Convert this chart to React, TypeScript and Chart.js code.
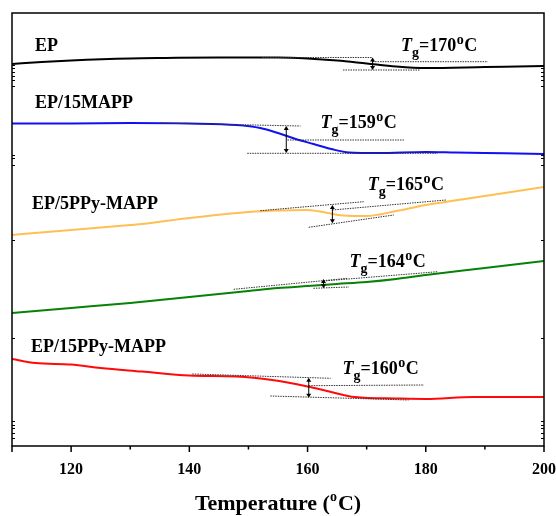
import { useEffect, useRef } from "react";
import { Chart, registerables } from "chart.js";

Chart.register(...registerables);

const SERIF = "'Liberation Serif', 'Times New Roman', serif";

// Temperatures (°C) and heat-flow readings (arbitrary units, endo down, offset per curve)
const epT = [110, 115, 120, 130, 136, 145, 155, 160, 165, 170, 175, 180, 190, 200];
const epV = [51, 49, 47.5, 45.5, 45, 44.5, 44.5, 45.5, 47.5, 50.5, 53.5, 55, 54, 53];

const mappT = [110, 120, 130, 140, 148, 152, 155, 158, 161, 164, 167, 172, 180, 185, 190, 200];
const mappV = [110.5, 110.5, 110, 110.5, 112, 115, 120, 126, 131, 136, 139.5, 140, 139, 139.5, 140, 141];

const ppy5T = [110, 120, 130, 132, 140, 150, 155, 160, 163, 166, 170, 175, 180, 190, 200];
const ppy5V = [222, 217, 212, 211, 205, 199, 197.5, 197, 199.5, 202.5, 203, 198, 192, 183, 174];

const ppy15gT = [110, 120, 130, 140, 150, 155, 160, 165, 170, 175, 180, 190, 200];
const ppy15gV = [300, 295, 290, 284, 278, 275, 273, 271, 269, 266, 262, 255, 248];

const ppy15T = [110, 114, 120, 125, 132, 140, 148, 154, 160, 164, 168, 175, 180, 188, 200];
const ppy15V = [346, 350, 351.5, 355, 358.5, 362.5, 363.5, 367, 373.5, 379, 384, 385.5, 386, 384, 384];

const seriesNames = ["EP", "EP/15MAPP", "EP/5PPy-MAPP", "EP/15PPy-MAPP"];
const seriesColors = ["#000000", "#1010f0", "#ffbf52", "#068206", "#ff0a0a"];
const nameT = [113.9, 113.9, 113.4, 113.2];
const nameV = [33, 90, 191, 334];

// Tg values and label anchors
const tgValues = ["170", "159", "165", "164", "160"];
const tgLabelT = [175.8, 162.2, 170.2, 167.1, 165.9];
const tgLabelV = [38, 115, 177, 254, 361];

// Tangent construction lines: [t1, v1, t2, v2]
const tangents = [
  [152.4, 44.5, 171, 44.5], [171, 48.7, 190.5, 48.7], [166, 57, 179, 57],
  [135, 110, 158.8, 113], [156.6, 127, 176.3, 127], [149.8, 140.3, 182, 140.3],
  [152, 197.7, 169.5, 188.7], [164.2, 197, 183.4, 187], [160.2, 214.3, 174.6, 202],
  [147.5, 276.3, 166.8, 265.3], [162.7, 268, 182, 258.7], [161, 275.3, 167, 274],
  [140.5, 361, 163.9, 365.3], [160.2, 372.7, 179.7, 372], [153.7, 383, 177.1, 387],
];

// Vertical step arrows: [t, vTop, vBottom]
const arrows = [
  [171, 44.5, 57],
  [156.4, 113, 140],
  [164.2, 192, 210.3],
  [162.7, 266, 275.3],
  [160.2, 364.7, 384.7],
];

const xMajorTicks = [110, 120, 140, 160, 180, 200];
const xMinorTicks = [130, 150, 170, 190];
const yMinorTicks = [52, 55, 59, 63, 67, 73, 142, 145, 152, 227, 325, 408, 412, 415, 420, 425];

const toPoints = (t: number[], v: number[]) => t.map((x, i) => ({ x, y: v[i] }));

const overlay = {
  id: "overlay",
  afterDraw(chart: any) {
    const { ctx, chartArea, scales } = chart;
    const xs = scales.x;
    const ys = scales.y;
    const { left, right, top, bottom } = chartArea;
    ctx.save();
    // frame
    ctx.strokeStyle = "#000";
    ctx.lineWidth = 1.5;
    ctx.strokeRect(left, top, right - left, bottom - top);
    // x ticks
    ctx.lineWidth = 1.5;
    ctx.beginPath();
    xMajorTicks.forEach((t) => {
      const px = xs.getPixelForValue(t);
      ctx.moveTo(px, bottom);
      ctx.lineTo(px, bottom + 6);
    });
    xMinorTicks.forEach((t) => {
      const px = xs.getPixelForValue(t);
      ctx.moveTo(px, bottom);
      ctx.lineTo(px, bottom + 3.5);
    });
    ctx.stroke();
    // y minor ticks inward
    ctx.lineWidth = 1;
    ctx.beginPath();
    yMinorTicks.forEach((v) => {
      const py = Math.round(ys.getPixelForValue(v)) + 0.5;
      ctx.moveTo(left, py);
      ctx.lineTo(left + 3, py);
      ctx.moveTo(right, py);
      ctx.lineTo(right - 3, py);
    });
    ctx.stroke();

    // arrows
    ctx.strokeStyle = "#000";
    ctx.fillStyle = "#000";
    ctx.lineWidth = 1;
    arrows.forEach(([t, v1, v2]) => {
      const px = xs.getPixelForValue(t);
      const y1 = ys.getPixelForValue(v1);
      const y2 = ys.getPixelForValue(v2);
      ctx.beginPath();
      ctx.moveTo(px, y1 + 2);
      ctx.lineTo(px, y2 - 2);
      ctx.stroke();
      ctx.beginPath();
      ctx.moveTo(px, y1);
      ctx.lineTo(px - 2.5, y1 + 4);
      ctx.lineTo(px + 2.5, y1 + 4);
      ctx.closePath();
      ctx.fill();
      ctx.beginPath();
      ctx.moveTo(px, y2);
      ctx.lineTo(px - 2.5, y2 - 4);
      ctx.lineTo(px + 2.5, y2 - 4);
      ctx.closePath();
      ctx.fill();
    });

    // series names
    ctx.fillStyle = "#000";
    ctx.textBaseline = "middle";
    ctx.textAlign = "left";
    ctx.font = `bold 18px ${SERIF}`;
    seriesNames.forEach((n, i) => {
      ctx.fillText(n, xs.getPixelForValue(nameT[i]), ys.getPixelForValue(nameV[i]));
    });

    // Tg labels
    ctx.textBaseline = "alphabetic";
    tgValues.forEach((val, i) => {
      let x = xs.getPixelForValue(tgLabelT[i]);
      const y = ys.getPixelForValue(tgLabelV[i]);
      ctx.font = `italic bold 18px ${SERIF}`;
      ctx.fillText("T", x, y);
      x += ctx.measureText("T").width;
      ctx.font = `bold 14px ${SERIF}`;
      ctx.fillText("g", x, y + 6);
      x += ctx.measureText("g").width;
      ctx.font = `bold 18px ${SERIF}`;
      const s = "=" + val;
      ctx.fillText(s, x, y);
      x += ctx.measureText(s).width + 0.5;
      ctx.font = `bold 14px ${SERIF}`;
      ctx.fillText("o", x, y - 7);
      x += ctx.measureText("o").width + 0.5;
      ctx.font = `bold 18px ${SERIF}`;
      ctx.fillText("C", x, y);
    });

    // axis title
    const cx = (left + right) / 2;
    const by = 510;
    const big = `bold 22px ${SERIF}`;
    const small = `bold 14px ${SERIF}`;
    ctx.font = big;
    const p1 = "Temperature (";
    const p3 = "C)";
    const w1 = ctx.measureText(p1).width;
    const w3 = ctx.measureText(p3).width;
    ctx.font = small;
    const w2 = ctx.measureText("o").width + 1;
    let x0 = cx - (w1 + w2 + w3) / 2;
    ctx.font = big;
    ctx.fillText(p1, x0, by);
    x0 += w1;
    ctx.font = small;
    ctx.fillText("o", x0, by - 9);
    x0 += w2;
    ctx.font = big;
    ctx.fillText(p3, x0, by);
    ctx.restore();
  },
};

export default function App() {
  const ref = useRef<HTMLCanvasElement | null>(null);
  useEffect(() => {
    if (!ref.current) return;
    const curveDefs = [
      [epT, epV], [mappT, mappV], [ppy5T, ppy5V], [ppy15gT, ppy15gV], [ppy15T, ppy15V],
    ];
    const curveSets = curveDefs.map(([t, v], i) => ({
      data: toPoints(t, v),
      borderColor: seriesColors[i],
      borderWidth: 2,
      pointRadius: 0,
      tension: 0.4,
      cubicInterpolationMode: "monotone" as const,
      fill: false,
    }));
    const tangentSets = tangents.map(([t1, v1, t2, v2]) => ({
      data: [{ x: t1, y: v1 }, { x: t2, y: v2 }],
      borderColor: "#333",
      borderWidth: 1,
      borderDash: [1.5, 1],
      pointRadius: 0,
      fill: false,
    }));
    const chart = new Chart(ref.current, {
      type: "line",
      data: { datasets: [...tangentSets, ...curveSets] as any },
      plugins: [overlay],
      options: {
        animation: false,
        responsive: false,
        maintainAspectRatio: false,
        layout: { padding: { left: 12, right: 12, top: 13, bottom: 0 } },
        plugins: { legend: { display: false }, tooltip: { enabled: false } },
        scales: {
          x: {
            type: "linear",
            min: 110,
            max: 200,
            afterFit: (s: any) => {
              s.height = 70;
              s.paddingLeft = 0;
              s.paddingRight = 0;
            },
            grid: { display: false, drawTicks: false },
            border: { display: false },
            ticks: {
              stepSize: 10,
              autoSkip: false,
              maxRotation: 0,
              padding: 14,
              color: "#000",
              font: { family: SERIF, size: 16, weight: "bold" },
              callback: (v: any) => (v % 20 === 0 && v > 110 ? String(v) : ""),
            },
          },
          y: {
            type: "linear",
            display: false,
            reverse: true,
            min: 0,
            max: 433,
          },
        },
      },
    });
    return () => chart.destroy();
  }, []);
  return (
    <div style={{ position: "fixed", left: 0, top: 0, width: 556, height: 516, background: "#fff" }}>
      <canvas ref={ref} width={556} height={516} style={{ width: 556, height: 516 }} />
    </div>
  );
}
